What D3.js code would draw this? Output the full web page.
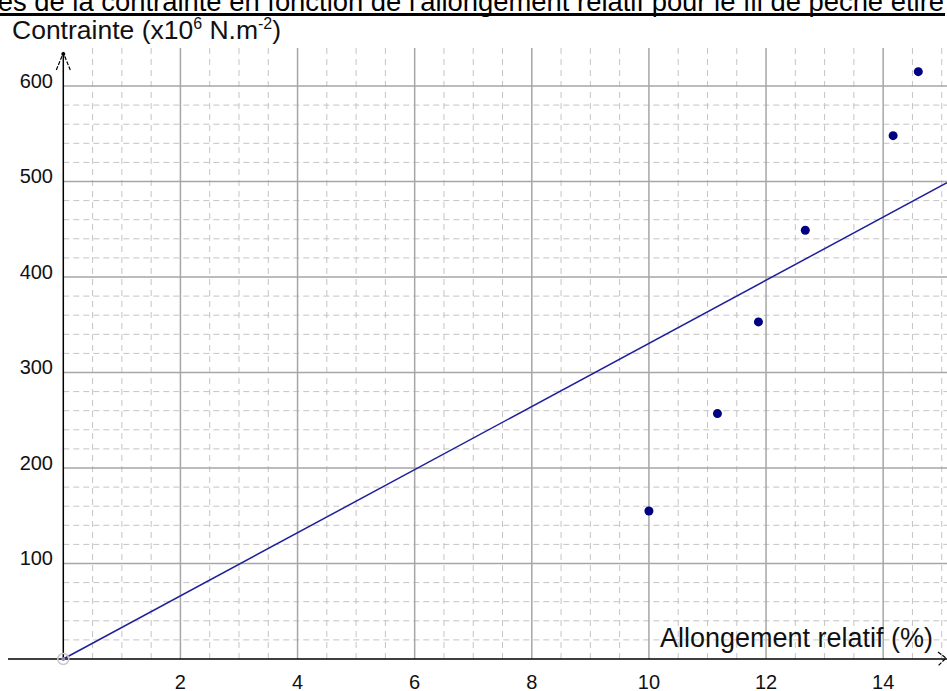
<!DOCTYPE html>
<html>
<head>
<meta charset="utf-8">
<script src="https://d3js.org/d3.v7.min.js"></script>
<style>
	body { margin: 0; background: #fff; }
	svg { display: block; font-family: "Liberation Sans", Arial, sans-serif; }
</style>
</head>
<body>
<svg id="chart" width="947" height="691"></svg>
<script>
// mesures (allongement relatif en %, contrainte en 10^6 N.m^-2)
var allongement = [10.0, 11.17, 11.87, 12.67, 14.17, 14.6];
var contrainte = [155, 257, 353, 449, 548, 615];
var pente = 33.05; // droite de tendance passant par l'origine
var xTicks = [2, 4, 6, 8, 10, 12, 14];
var yTicks = [100, 200, 300, 400, 500, 600];
var titre = "Courbes de la contrainte en fonction de l'allongement relatif pour le fil de pêche étiré";

var width = 947, height = 691;
var svg = d3.select('#chart');

var x = d3.scaleLinear().domain([0, 15.09]).range([63.3, 947]);
var y = d3.scaleLinear().domain([0, 600]).range([659, 86]);
var gridTop = 48;

// titre coupé en haut
svg.append("text")
	.attr("x", 944)
	.attr("y", 11)
	.attr("text-anchor", "end")
	.attr("font-size", 27.4)
	.attr("fill", "#000")
	.text(titre);
svg.append("line")
	.attr("x1", 0).attr("x2", 945)
	.attr("y1", 14.5).attr("y2", 14.5)
	.attr("stroke", "#000")
	.attr("stroke-width", 3);

// quadrillage secondaire
var minorX = d3.range(0.5, 15.01, 0.5).filter(function(d) { return d % 2 != 0; });
var minorY = d3.range(20, 601, 20).filter(function(d) { return d % 100 != 0; });

var grid = svg.append("g").attr("class", "grid");
grid.selectAll("line.mx")
	.data(minorX)
	.enter().append("line")
	.attr("class", "mx")
	.attr("x1", function(d) { return x(d); })
	.attr("x2", function(d) { return x(d); })
	.attr("y1", y(0)).attr("y2", gridTop)
	.attr("stroke", "#c4c4c4")
	.attr("stroke-dasharray", "6,5");
grid.selectAll("line.my")
	.data(minorY)
	.enter().append("line")
	.attr("class", "my")
	.attr("x1", x(0)).attr("x2", width)
	.attr("y1", function(d) { return y(d); })
	.attr("y2", function(d) { return y(d); })
	.attr("stroke", "#c4c4c4")
	.attr("stroke-dasharray", "6,4");

// quadrillage principal
grid.selectAll("line.Mx")
	.data(xTicks)
	.enter().append("line")
	.attr("class", "Mx")
	.attr("x1", function(d) { return x(d); })
	.attr("x2", function(d) { return x(d); })
	.attr("y1", y(0)).attr("y2", gridTop)
	.attr("stroke", "#a6a6a6")
	.attr("stroke-width", 1.5);
grid.selectAll("line.My")
	.data(yTicks)
	.enter().append("line")
	.attr("class", "My")
	.attr("x1", x(0)).attr("x2", width)
	.attr("y1", function(d) { return y(d); })
	.attr("y2", function(d) { return y(d); })
	.attr("stroke", "#a6a6a6")
	.attr("stroke-width", 1.5);

// axes
svg.append("line")
	.attr("x1", 8).attr("x2", width)
	.attr("y1", y(0)).attr("y2", y(0))
	.attr("stroke", "#000").attr("stroke-width", 1.5);
svg.append("line")
	.attr("x1", x(0)).attr("x2", x(0))
	.attr("y1", y(0)).attr("y2", 54)
	.attr("stroke", "#000").attr("stroke-width", 1.5);

// flèches
svg.append("path")
	.attr("d", "M" + (x(0) - 7) + ",70 L" + x(0) + ",53 L" + (x(0) + 7) + ",70")
	.attr("fill", "none").attr("stroke", "#000")
	.attr("stroke-width", 1.2)
	.attr("stroke-dasharray", "4,1.5");
svg.append("circle")
	.attr("cx", x(0)).attr("cy", 54).attr("r", 2)
	.attr("fill", "#000");
svg.append("path")
	.attr("d", "M938,652 L946,658 L938,666")
	.attr("fill", "none").attr("stroke", "#000")
	.attr("stroke-width", 1.2)
	.attr("stroke-dasharray", "4,1.5");

// droite de tendance
svg.append("line")
	.attr("x1", x(0)).attr("y1", y(0))
	.attr("x2", x(15.09)).attr("y2", y(pente * 15.09))
	.attr("stroke", "#1f1f9c")
	.attr("stroke-width", 1.5);

// origine
svg.append("circle")
	.attr("cx", x(0)).attr("cy", y(0)).attr("r", 5.5)
	.attr("fill", "none").attr("stroke", "#c8c8c8").attr("stroke-width", 1.5);
svg.append("circle")
	.attr("cx", x(0)).attr("cy", y(0)).attr("r", 2)
	.attr("fill", "#8a8ab8");

// points de mesure
var points = allongement.map(function(d, i) { return {a: d, c: contrainte[i]}; });
svg.append("g")
	.selectAll("circle")
	.data(points)
	.enter().append("circle")
	.attr("cx", function(d) { return x(d.a); })
	.attr("cy", function(d) { return y(d.c); })
	.attr("r", 4.5)
	.attr("fill", "#000080");

// graduations
svg.append("g")
	.selectAll("text")
	.data(xTicks)
	.enter().append("text")
	.attr("x", function(d) { return x(d); })
	.attr("y", 689)
	.attr("text-anchor", "middle")
	.attr("font-size", 20)
	.attr("fill", "#111")
	.text(function(d) { return d; });
svg.append("g")
	.selectAll("text")
	.data(yTicks)
	.enter().append("text")
	.attr("x", 53)
	.attr("y", function(d) { return y(d) + 1.5; })
	.attr("text-anchor", "end")
	.attr("font-size", 20)
	.attr("fill", "#111")
	.text(function(d) { return d; });

// titres des axes
var ty = svg.append("text")
	.attr("x", 12)
	.attr("y", 39)
	.attr("font-size", 26.5)
	.attr("fill", "#111");
ty.append("tspan").text("Contrainte (x10");
ty.append("tspan").attr("font-size", 16).attr("dy", -10).text("6");
ty.append("tspan").attr("dy", 10).text(" N.m");
ty.append("tspan").attr("font-size", 16).attr("dy", -10).text("-2");
ty.append("tspan").attr("dy", 10).text(")");

svg.append("text")
	.attr("x", 660)
	.attr("y", 647)
	.attr("font-size", 27)
	.attr("fill", "#111")
	.text("Allongement relatif (%)");
</script>
</body>
</html>
